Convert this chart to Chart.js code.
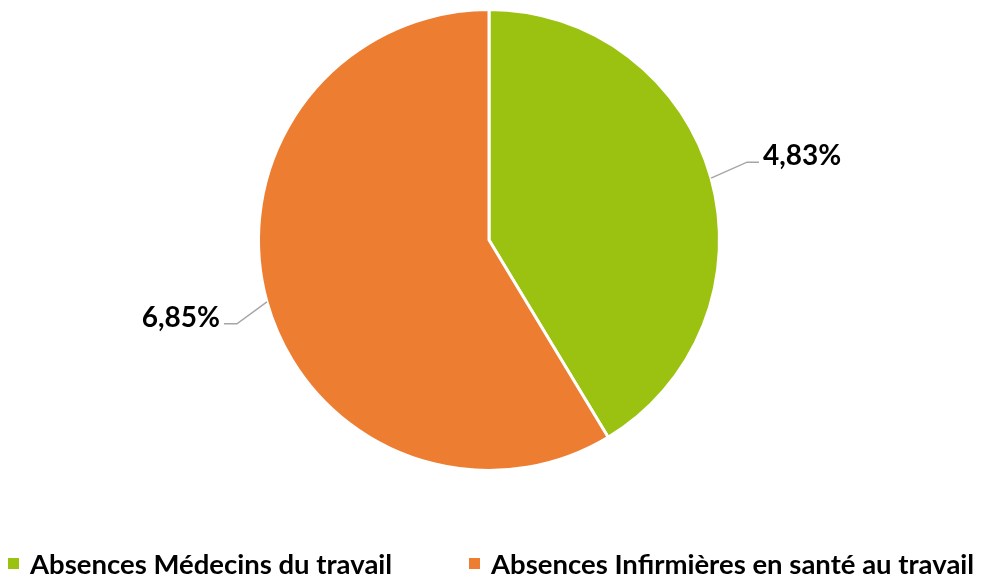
<!DOCTYPE html>
<html>
<head>
<meta charset="utf-8">
<script src="https://cdn.jsdelivr.net/npm/chart.js@4.4.0/dist/chart.umd.min.js"></script>
<style>
  body { margin: 0; background: #fff; }
  canvas { display: block; }
</style>
</head>
<body>
<canvas id="myChart" width="985" height="576"></canvas>
<script>
var categorias = ['Absences Médecins du travail', 'Absences Infirmières en santé au travail'];
var valores = [4.83, 6.85];
var cores = ['#9BC210', '#ED7D31'];

// posição x das entradas da legenda
var legendaX = [8, 469];

var fonteRotulo = 'bold 28px Lato';
var fonteLegenda = 'bold 27.5px Lato';

// rótulos com linha de chamada
var rotulos = {
  id: 'rotulos',
  afterDatasetsDraw: function (chart) {
    var ctx = chart.ctx;
    var meta = chart.getDatasetMeta(0);
    ctx.save();
    meta.data.forEach(function (arc, i) {
      var p = arc.getProps(['x', 'y', 'startAngle', 'endAngle', 'outerRadius'], true);
      var mid = (p.startAngle + p.endAngle) / 2;
      var px = p.x + Math.cos(mid) * p.outerRadius;
      var py = p.y + Math.sin(mid) * p.outerRadius;
      var direita = Math.cos(mid) >= 0;
      var ex, ey, fx;
      if (direita) {
        ex = px + 36; ey = py - 16; fx = ex + 12;
      } else {
        ex = px - 30; ey = py + 22; fx = ex - 13;
      }
      ctx.strokeStyle = '#A6A6A6';
      ctx.lineWidth = 1.5;
      ctx.beginPath();
      ctx.moveTo(px, py);
      ctx.lineTo(ex, ey);
      ctx.lineTo(fx, ey);
      ctx.stroke();

      var txt = valores[i].toFixed(2).replace('.', ',') + '%';
      ctx.fillStyle = '#000';
      ctx.font = fonteRotulo;
      ctx.textBaseline = 'alphabetic';
      if (direita) {
        ctx.textAlign = 'left';
        ctx.fillText(txt, fx + 4, ey + 3);
      } else {
        ctx.textAlign = 'right';
        ctx.fillText(txt, fx - 4, ey + 3);
      }
    });
    ctx.restore();
  },
  afterDraw: function (chart) {
    var ctx = chart.ctx;
    ctx.save();
    ctx.font = fonteLegenda;
    ctx.textAlign = 'left';
    ctx.textBaseline = 'alphabetic';
    categorias.forEach(function (c, i) {
      ctx.fillStyle = cores[i];
      ctx.fillRect(legendaX[i], 558, 11, 11);
      ctx.fillStyle = '#000';
      ctx.fillText(c, legendaX[i] + 22, 574);
    });
    ctx.restore();
  }
};

var ctx = document.getElementById('myChart').getContext('2d');
var myChart = new Chart(ctx, {
  type: 'pie',
  data: {
    labels: categorias,
    datasets: [{
      data: valores,
      backgroundColor: cores,
      borderColor: '#FFFFFF',
      borderWidth: 3,
      hoverOffset: 0
    }]
  },
  options: {
    responsive: false,
    animation: false,
    layout: {
      padding: { top: 8, bottom: 104, left: 0, right: 7 }
    },
    plugins: {
      legend: { display: false },
      tooltip: { enabled: false }
    }
  },
  plugins: [rotulos]
});
</script>
</body>
</html>
